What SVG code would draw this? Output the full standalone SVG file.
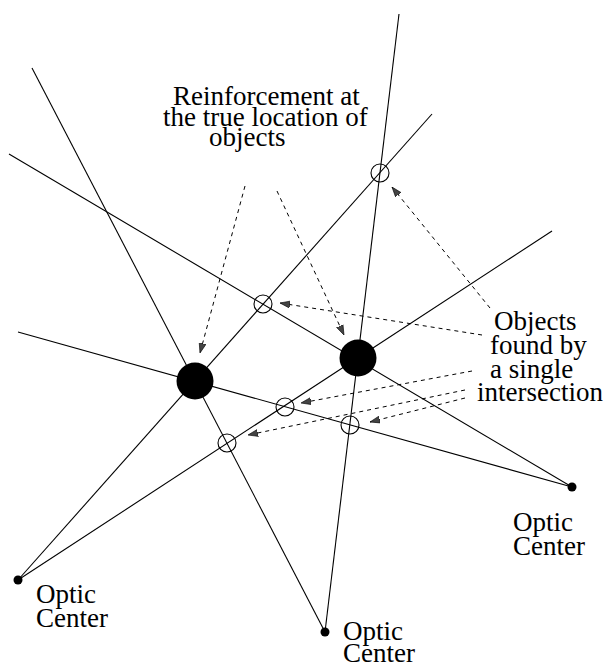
<svg xmlns="http://www.w3.org/2000/svg" width="603" height="668" viewBox="0 0 603 668">
<style>
.ray{stroke:#000;stroke-width:1.1;fill:none}
.dash{stroke:#000;stroke-width:1;fill:none;stroke-dasharray:4 4;marker-end:url(#ah)}
.obj{fill:#000}
.ghost{fill:none;stroke:#000;stroke-width:1.1}
.oc{fill:#000}
text{font-family:"Liberation Serif","Times New Roman",serif;font-size:27px;fill:#000}
</style>
<defs>
<marker id="ah" viewBox="0 0 10 8" refX="10" refY="4" markerWidth="10" markerHeight="8" markerUnits="userSpaceOnUse" orient="auto">
<path d="M0,0.5 L10,4 L0,7.5 Z" fill="#444" stroke="#000" stroke-width="0.6"/>
</marker>
</defs>
<rect width="603" height="668" fill="#fff"/>
<g id="connectors">
<line class="ray" x1="18" y1="580" x2="432" y2="114"/>
<line class="ray" x1="18" y1="580" x2="552" y2="231"/>
<line class="ray" x1="325" y1="632" x2="399" y2="14"/>
<line class="ray" x1="325" y1="632" x2="32" y2="68"/>
<line class="ray" x1="572" y1="487" x2="9" y2="154"/>
<line class="ray" x1="572" y1="487" x2="18" y2="332"/>
<line class="dash" x1="245" y1="186" x2="200" y2="353"/>
<line class="dash" x1="277" y1="191" x2="344" y2="335"/>
<line class="dash" x1="482" y1="335" x2="280" y2="303"/>
<line class="dash" x1="490" y1="308" x2="392" y2="187"/>
<line class="dash" x1="472" y1="371" x2="301" y2="403"/>
<line class="dash" x1="465" y1="390" x2="248" y2="435"/>
<line class="dash" x1="465" y1="398" x2="370" y2="422"/>
</g>
<g id="object-a"><circle class="obj" cx="195" cy="381" r="18.5"/></g>
<g id="object-b"><circle class="obj" cx="358" cy="358" r="18.5"/></g>
<g id="ghost-1"><circle class="ghost" cx="380" cy="173" r="9"/></g>
<g id="ghost-2"><circle class="ghost" cx="263" cy="304" r="9"/></g>
<g id="ghost-3"><circle class="ghost" cx="285" cy="407" r="9"/></g>
<g id="ghost-4"><circle class="ghost" cx="350" cy="425" r="9"/></g>
<g id="ghost-5"><circle class="ghost" cx="227" cy="443" r="9"/></g>
<g id="optic-left"><circle class="oc" cx="18" cy="580" r="4.5"/><text x="36" y="603">Optic</text><text x="36" y="627">Center</text></g>
<g id="optic-middle"><circle class="oc" cx="325" cy="632" r="4.5"/><text x="343" y="640">Optic</text><text x="343" y="662">Center</text></g>
<g id="optic-right"><circle class="oc" cx="572" cy="487" r="4.5"/><text x="513" y="531">Optic</text><text x="513" y="555">Center</text></g>
<g id="label-reinforcement"><text x="173" y="105">Reinforcement at</text><text x="163" y="126">the true location of</text><text x="209" y="146">objects</text></g>
<g id="label-single"><text x="494" y="330">Objects</text><text x="490" y="354">found by</text><text x="490" y="378">a single</text><text x="477" y="401">intersection</text></g>
</svg>
